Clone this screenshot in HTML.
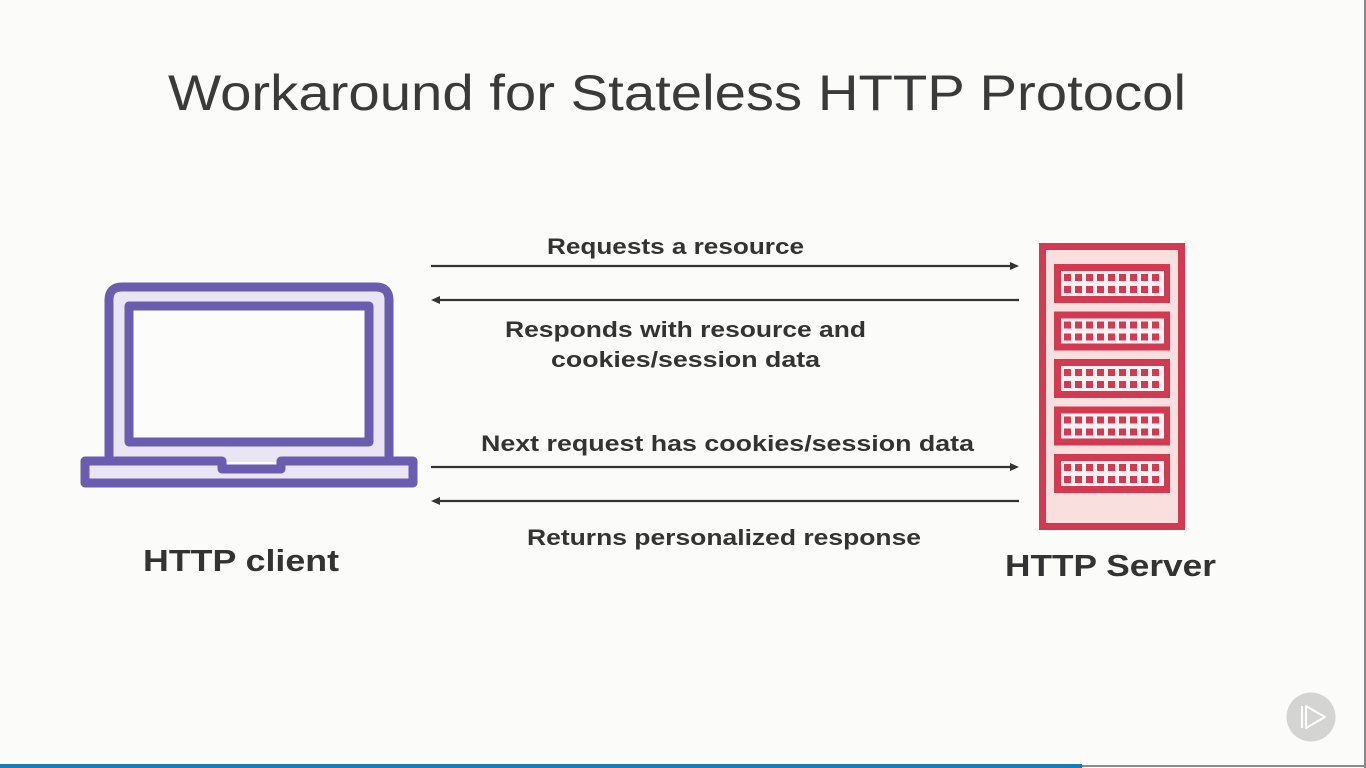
<!DOCTYPE html>
<html><head><meta charset="utf-8"><style>
html,body{margin:0;padding:0;background:#fbfbf9;}
svg{display:block}
text{font-family:"Liberation Sans",sans-serif;fill:#333;}
</style></head><body>
<svg width="1366" height="768" viewBox="0 0 1366 768" xmlns="http://www.w3.org/2000/svg">
<rect width="1366" height="768" fill="#fbfbf9"/>
<text x="168" y="110" font-size="50" textLength="1018" lengthAdjust="spacingAndGlyphs" style="fill:#3a3a3a">Workaround for Stateless HTTP Protocol</text>

<!-- laptop -->
<g stroke="#6a5caf" stroke-width="9" fill="#e9e5f3" stroke-linejoin="round">
<path d="M109 462 V300 Q109 287 122 287 H376 Q389 287 389 300 V462"/>
<rect x="129" y="306" width="240" height="136" fill="#fcfcfb"/>
<path d="M85 461 H222 V469 H281 V461 H413 V483 H85 Z"/>
</g>
<text x="143" y="571" font-size="31" font-weight="bold" textLength="196" lengthAdjust="spacingAndGlyphs">HTTP client</text>

<!-- arrows -->
<g stroke="#333" stroke-width="2.2" fill="#333">
<line x1="431" y1="266" x2="1013" y2="266"/><path d="M1019 266 L1010 262 L1010 270 Z" stroke="none"/>
<line x1="437" y1="300" x2="1019" y2="300"/><path d="M431 300 L440 296 L440 304 Z" stroke="none"/>
<line x1="431" y1="467" x2="1013" y2="467"/><path d="M1019 467 L1010 463 L1010 471 Z" stroke="none"/>
<line x1="437" y1="501" x2="1019" y2="501"/><path d="M431 501 L440 497 L440 505 Z" stroke="none"/>
</g>
<g font-size="22" font-weight="bold">
<text x="547" y="254" textLength="257" lengthAdjust="spacingAndGlyphs">Requests a resource</text>
<text x="505" y="337" textLength="361" lengthAdjust="spacingAndGlyphs">Responds with resource and</text>
<text x="551" y="367" textLength="269" lengthAdjust="spacingAndGlyphs">cookies/session data</text>
<text x="481" y="451" textLength="493" lengthAdjust="spacingAndGlyphs">Next request has cookies/session data</text>
<text x="527" y="545" textLength="394" lengthAdjust="spacingAndGlyphs">Returns personalized response</text>
</g>

<!-- server -->
<rect x="1042.5" y="246.5" width="139" height="280" fill="#f9e0df" stroke="#d23a52" stroke-width="7"/>
<g id="u">
<rect x="1054" y="264" width="116" height="39" fill="#d23a52"/>
<rect x="1061" y="271" width="103" height="25" fill="#fbf3f3"/>
<g fill="#d23a52">
<rect x="1064" y="274" width="7" height="7"/><rect x="1075" y="274" width="7" height="7"/><rect x="1086" y="274" width="7" height="7"/><rect x="1097" y="274" width="7" height="7"/><rect x="1108" y="274" width="7" height="7"/><rect x="1119" y="274" width="7" height="7"/><rect x="1130" y="274" width="7" height="7"/><rect x="1141" y="274" width="7" height="7"/><rect x="1152" y="274" width="7" height="7"/>
<rect x="1064" y="286" width="7" height="7"/><rect x="1075" y="286" width="7" height="7"/><rect x="1086" y="286" width="7" height="7"/><rect x="1097" y="286" width="7" height="7"/><rect x="1108" y="286" width="7" height="7"/><rect x="1119" y="286" width="7" height="7"/><rect x="1130" y="286" width="7" height="7"/><rect x="1141" y="286" width="7" height="7"/><rect x="1152" y="286" width="7" height="7"/>
</g>
</g>
<use href="#u" y="47.5"/>
<use href="#u" y="95"/>
<use href="#u" y="142.5"/>
<use href="#u" y="190"/>
<text x="1005" y="576" font-size="31" font-weight="bold" textLength="211" lengthAdjust="spacingAndGlyphs">HTTP Server</text>

<!-- logo -->
<circle cx="1311" cy="717" r="24.5" fill="#d4d4d2"/>
<g fill="none" stroke="#fff" stroke-width="2" stroke-linejoin="round">
<path d="M1302 706 V728"/><path d="M1306 706 L1325 717 L1306 728 Z"/>
</g>

<!-- borders -->
<rect x="1364" y="0" width="2" height="768" fill="#8a8a8a"/>
<rect x="0" y="765" width="1366" height="2" fill="#8a8a8a"/>
<rect x="0" y="764" width="1082" height="4" fill="#1b7ab8"/>
</svg>
</body></html>
